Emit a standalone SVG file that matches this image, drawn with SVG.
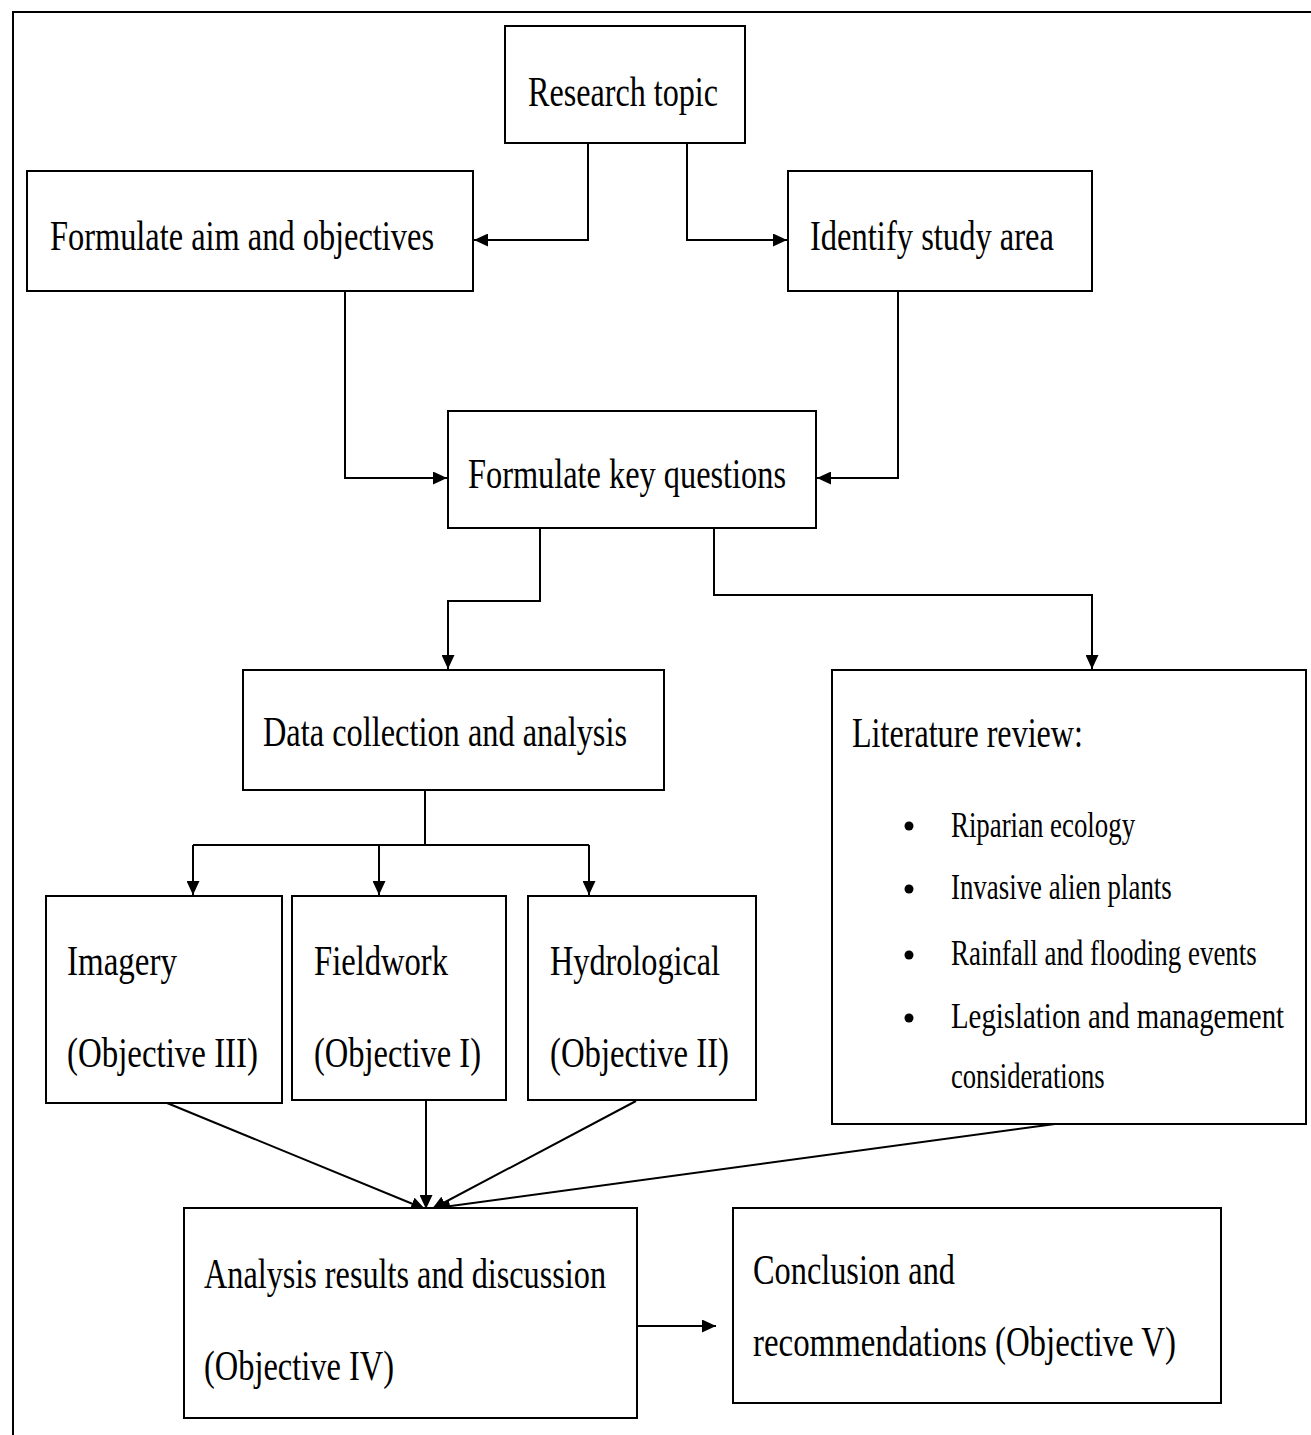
<svg xmlns="http://www.w3.org/2000/svg" width="1311" height="1435" viewBox="0 0 1311 1435">
<style>
.box{fill:#fff;stroke:#000;stroke-width:2}
.t{font-family:"Liberation Serif","Times New Roman",serif;font-size:42px;fill:#000}
.s{font-family:"Liberation Serif","Times New Roman",serif;font-size:36px;fill:#000}
.c{fill:none;stroke:#000;stroke-width:2}
</style>
<defs>
<marker id="ah" markerUnits="userSpaceOnUse" markerWidth="15" markerHeight="13" refX="14" refY="6.5" orient="auto">
<path d="M0,0 L14,6.5 L0,13 z" fill="#000"/>
</marker>
</defs>
<rect width="1311" height="1435" fill="#fff"/>
<path d="M13,1435 L13,12 L1311,12" fill="none" stroke="#000" stroke-width="2"/>
<g id="connectors">
<path class="c" d="M588,143 V240 H474" marker-end="url(#ah)"/>
<path class="c" d="M687,143 V240 H787" marker-end="url(#ah)"/>
<path class="c" d="M345,291 V478 H447" marker-end="url(#ah)"/>
<path class="c" d="M898,291 V478 H817" marker-end="url(#ah)"/>
<path class="c" d="M540,528 V601 H448 V669" marker-end="url(#ah)"/>
<path class="c" d="M714,528 V595 H1092 V669" marker-end="url(#ah)"/>
<path class="c" d="M425,790 V845"/>
<path class="c" d="M193,845 H589"/>
<path class="c" d="M193,845 V895" marker-end="url(#ah)"/>
<path class="c" d="M379,845 V895" marker-end="url(#ah)"/>
<path class="c" d="M589,845 V895" marker-end="url(#ah)"/>
<path class="c" d="M167,1103 L425,1209" marker-end="url(#ah)"/>
<path class="c" d="M426,1100 V1209" marker-end="url(#ah)"/>
<path class="c" d="M636,1101 L432,1209" marker-end="url(#ah)"/>
<path class="c" d="M1055,1124 L436,1208" marker-end="url(#ah)"/>
<path class="c" d="M637,1326 H716" marker-end="url(#ah)"/>
</g>
<g id="research-topic">
<rect class="box" x="505" y="26" width="240" height="117"/>
<text class="t" x="528" y="106" textLength="190" lengthAdjust="spacingAndGlyphs">Research topic</text>
</g>
<g id="formulate-aim">
<rect class="box" x="27" y="171" width="446" height="120"/>
<text class="t" x="50" y="250" textLength="384" lengthAdjust="spacingAndGlyphs">Formulate aim and objectives</text>
</g>
<g id="identify-study-area">
<rect class="box" x="788" y="171" width="304" height="120"/>
<text class="t" x="810" y="250" textLength="244" lengthAdjust="spacingAndGlyphs">Identify study area</text>
</g>
<g id="key-questions">
<rect class="box" x="448" y="411" width="368" height="117"/>
<text class="t" x="468" y="488" textLength="318" lengthAdjust="spacingAndGlyphs">Formulate key questions</text>
</g>
<g id="data-collection">
<rect class="box" x="243" y="670" width="421" height="120"/>
<text class="t" x="263" y="746" textLength="364" lengthAdjust="spacingAndGlyphs">Data collection and analysis</text>
</g>
<g id="literature-review">
<rect class="box" x="832" y="670" width="474" height="454"/>
<text class="t" x="852" y="747" textLength="231" lengthAdjust="spacingAndGlyphs">Literature review:</text>
<circle cx="909" cy="826" r="4.5"/>
<circle cx="909" cy="889" r="4.5"/>
<circle cx="909" cy="955" r="4.5"/>
<circle cx="909" cy="1018" r="4.5"/>
<g transform="translate(951,0) scale(0.78,1)">
<text class="s" x="0" y="837" textLength="236" lengthAdjust="spacingAndGlyphs">Riparian ecology</text>
<text class="s" x="0" y="899" textLength="283" lengthAdjust="spacingAndGlyphs">Invasive alien plants</text>
<text class="s" x="0" y="965" textLength="392" lengthAdjust="spacingAndGlyphs">Rainfall and flooding events</text>
<text class="s" x="0" y="1028" textLength="427" lengthAdjust="spacingAndGlyphs">Legislation and management</text>
<text class="s" x="0" y="1088" textLength="197" lengthAdjust="spacingAndGlyphs">considerations</text>
</g>
</g>
<g id="imagery">
<rect class="box" x="46" y="896" width="236" height="207"/>
<text class="t" x="67" y="975" textLength="110" lengthAdjust="spacingAndGlyphs">Imagery</text>
<text class="t" x="67" y="1067" textLength="191" lengthAdjust="spacingAndGlyphs">(Objective III)</text>
</g>
<g id="fieldwork">
<rect class="box" x="292" y="896" width="214" height="204"/>
<text class="t" x="314" y="975" textLength="134" lengthAdjust="spacingAndGlyphs">Fieldwork</text>
<text class="t" x="314" y="1067" textLength="167" lengthAdjust="spacingAndGlyphs">(Objective I)</text>
</g>
<g id="hydrological">
<rect class="box" x="528" y="896" width="228" height="204"/>
<text class="t" x="550" y="975" textLength="170" lengthAdjust="spacingAndGlyphs">Hydrological</text>
<text class="t" x="550" y="1067" textLength="179" lengthAdjust="spacingAndGlyphs">(Objective II)</text>
</g>
<g id="analysis-results">
<rect class="box" x="184" y="1208" width="453" height="210"/>
<text class="t" x="204" y="1288" textLength="402" lengthAdjust="spacingAndGlyphs">Analysis results and discussion</text>
<text class="t" x="204" y="1380" textLength="190" lengthAdjust="spacingAndGlyphs">(Objective IV)</text>
</g>
<g id="conclusion">
<rect class="box" x="733" y="1208" width="488" height="195"/>
<text class="t" x="753" y="1284" textLength="202" lengthAdjust="spacingAndGlyphs">Conclusion and</text>
<text class="t" x="753" y="1356" textLength="423" lengthAdjust="spacingAndGlyphs">recommendations (Objective V)</text>
</g>
</svg>
